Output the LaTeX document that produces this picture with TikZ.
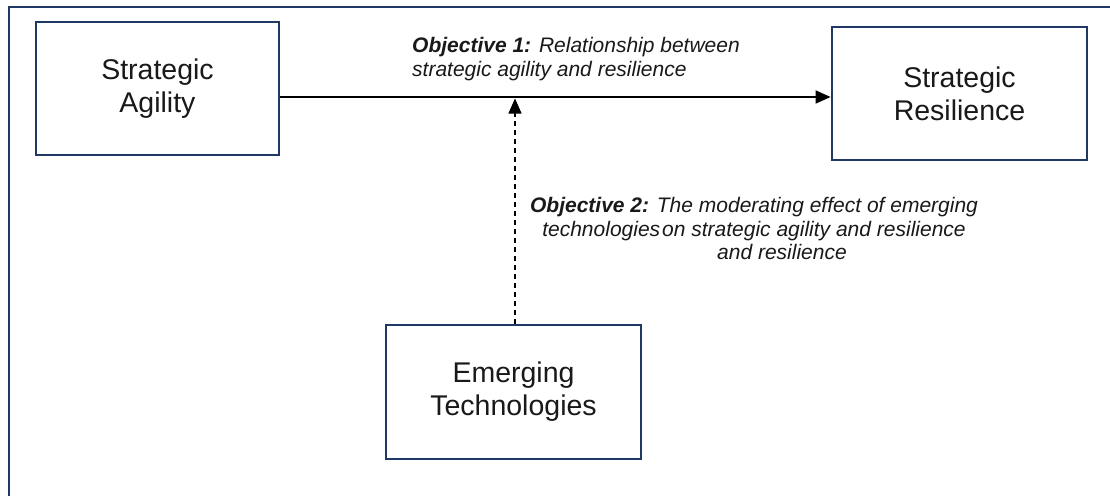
\documentclass[tikz,border=0pt]{standalone}
\usepackage{fontspec}
\setmainfont{Liberation Sans}
\usetikzlibrary{arrows.meta}
\definecolor{frameblue}{RGB}{31,56,100}
\definecolor{inkgray}{RGB}{25,25,25}
\begin{document}
\begin{tikzpicture}[x=1pt,y=-1pt,
  conceptbox/.style={draw=frameblue,line width=2.8pt,fill=white,align=center,
    text=inkgray,font=\fontsize{28.5}{33}\selectfont,inner sep=0pt},
  objtext/.style={text=inkgray,inner sep=0pt,font=\fontsize{21}{23.5}\selectfont\itshape},
  link/.style={line width=1.4pt,-{Triangle[length=15pt,width=13pt]}}
]
\useasboundingbox (0,0) rectangle (1110,495);
% open frame: top and left edges only
\draw[frameblue,line width=2.8pt] (9,496) -- (9,7) -- (1111,7);

\node[conceptbox,minimum width=243pt,minimum height=133pt] (sa) at (157.5,88.5) {Strategic\\Agility};
\node[conceptbox,minimum width=255pt,minimum height=133pt] (sr) at (959.5,93.5) {Strategic\\Resilience};
\node[conceptbox,minimum width=255pt,minimum height=134pt] (et) at (513.5,392) {Emerging\\Technologies};

% main relationship
\coordinate (row) at (0,97);
\draw[link] (sa.east |- row) -- (sr.west |- row);

% moderating effect
\coordinate (tip) at (515,98.5);
\draw[link,line width=1.1pt,dash pattern=on 5pt off 4pt] (et.north -| tip) -- (tip);

\node[objtext,anchor=north west,align=left] (obj1) at (412,37.5)
  {\textbf{Objective 1:} Relationship between\\strategic agility and resilience};
\node[objtext,anchor=north,align=center] (obj2) at (754,197.5)
  {\textbf{Objective 2:} The moderating effect of emerging\\technologies\kern2pt on strategic agility and resilience\\\hspace*{56pt}and resilience};
\end{tikzpicture}
\end{document}
